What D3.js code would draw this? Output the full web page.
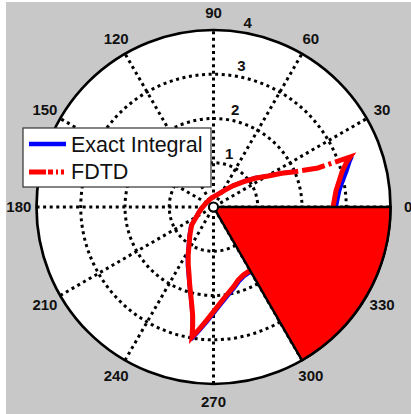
<!DOCTYPE html>
<html>
<head>
<meta charset="utf-8">
<script src="https://cdn.jsdelivr.net/npm/d3@7"></script>
<style>
  body { margin: 0; background: #fff; }
  text { font-family: "Liberation Sans", Arial, sans-serif; fill: #111; }
</style>
</head>
<body>
<svg id="chart" width="411" height="414"></svg>
<script>
// angle in degrees, radius in plot units
var angles = [0, 2.85, 7.44, 11.7, 15.24, 18.37, 20.1, 20.5, 23.4, 26.3, 29.5, 34.7, 40.3, 47.1, 55.9, 69.3, 101.7,
  151.5, 186.3, 202.5, 212.4, 219.5, 230, 237.2, 242.3, 246.5, 250.2, 253.0, 255.5, 257.5, 259.1, 260.0, 260.6,
  263.6, 266.6, 269.9, 273.9, 278.5, 284, 288.8, 293.7, 298.3, 310, 325, 340, 352, 360];

var exactIntegral = [2.77, 2.80, 2.87, 2.99, 3.12, 3.24, 3.33, null, 2.03, 1.74, 1.44, 1.16, 0.90, 0.67, 0.47, 0.32, 0.21,
  0.18, 0.28, 0.38, 0.49, 0.66, 0.85, 1.04, 1.26, 1.46, 1.66, 1.86, 2.07, 2.29, 2.51, 2.74, 3.02,
  2.80, 2.60, 2.41, 2.22, 2.05, 1.90, 1.78, 1.71, 1.69, 1.82, 2.08, 2.38, 2.60, 2.77];

var fdtd = [2.70, 2.73, 2.79, 2.90, 3.01, 3.16, 3.29, 2.52, 2.01, 1.72, 1.42, 1.14, 0.88, 0.66, 0.46, 0.31, 0.21,
  0.19, 0.27, 0.37, 0.48, 0.64, 0.83, 1.02, 1.23, 1.43, 1.63, 1.84, 2.05, 2.27, 2.49, 2.71, 2.98,
  2.76, 2.56, 2.37, 2.18, 2.01, 1.86, 1.74, 1.68, 1.66, 1.80, 2.05, 2.35, 2.55, 2.70];

var wedgeAngles = [300, 360];
var wedgeRadius = 4;

var angleTicks = [0, 30, 60, 90, 120, 150, 180, 210, 240, 270, 300, 330];
var radialTicks = [1, 2, 3, 4];
var seriesNames = ["Exact Integral", "FDTD"];

var cx = 213.5, cy = 207, R = 177;
var dashPattern = [16, 4, 3, 4];

var svg = d3.select("#chart");

var r = d3.scaleLinear().domain([0, 4]).range([0, R]);
var toRad = function(d) { return d * Math.PI / 180; };
// d3 radial angle: clockwise from 12 o'clock
var radial = function(d) { return toRad(90 - d); };

svg.append("rect")
  .attr("x", 6).attr("y", 2)
  .attr("width", 405).attr("height", 412)
  .attr("fill", "#c8c8c8");

var g = svg.append("g")
  .attr("transform", "translate(" + cx + "," + cy + ")");

g.append("circle").attr("r", r(4)).attr("fill", "#fff");

// dotted rings
g.selectAll(".ring")
  .data(radialTicks.filter(function(t) { return t < 4; }))
  .enter()
  .append("circle")
  .attr("class", "ring")
  .attr("r", function(d) { return r(d); })
  .attr("fill", "none")
  .attr("stroke", "#000")
  .attr("stroke-width", 3)
  .attr("stroke-dasharray", "3,3.6");

// dotted spokes through centre
g.selectAll(".spoke")
  .data(angleTicks.filter(function(t) { return t < 180; }))
  .enter()
  .append("line")
  .attr("class", "spoke")
  .attr("x1", function(d) { return -r(4) * Math.cos(toRad(d)); })
  .attr("y1", function(d) { return r(4) * Math.sin(toRad(d)); })
  .attr("x2", function(d) { return r(4) * Math.cos(toRad(d)); })
  .attr("y2", function(d) { return -r(4) * Math.sin(toRad(d)); })
  .attr("stroke", "#000")
  .attr("stroke-width", 3)
  .attr("stroke-dasharray", "3,3.6");

g.append("circle")
  .attr("r", r(4))
  .attr("fill", "none")
  .attr("stroke", "#000")
  .attr("stroke-width", 2.7);

// series
var idx = d3.range(angles.length);

var line = function(vals) {
  return d3.lineRadial()
    .defined(function(i) { return vals[i] != null; })
    .angle(function(i) { return radial(angles[i]); })
    .radius(function(i) { return r(vals[i]); });
};

g.append("path")
  .attr("d", line(exactIntegral)(idx))
  .attr("fill", "none")
  .attr("stroke", "#0000ff")
  .attr("stroke-width", 4)
  .attr("stroke-linejoin", "round");

// dash-dot that restarts at every vertex, like the old plot renderer
function vertexDash(vals) {
  var pts = idx.map(function(i) {
    return [r(vals[i]) * Math.cos(toRad(angles[i])), -r(vals[i]) * Math.sin(toRad(angles[i]))];
  });
  var out = [];
  for (var s = 1; s < pts.length; s++) {
    var rem = Math.hypot(pts[s][0] - pts[s-1][0], pts[s][1] - pts[s-1][1]);
    var k = 0;
    while (rem > 0.001) {
      var p = Math.min(dashPattern[k % dashPattern.length], rem);
      var isDash = (k % 2 === 0);
      var lastIsDash = (out.length - 1) % 2 === 0;
      if (out.length && lastIsDash === isDash) out[out.length - 1] += p;
      else out.push(p);
      rem -= p;
      k++;
    }
  }
  if (out.length % 2 === 1) out.push(1000);
  return out.map(function(v) { return v.toFixed(2); }).join(",");
}

g.append("path")
  .attr("d", line(fdtd)(idx))
  .attr("fill", "none")
  .attr("stroke", "#ff0000")
  .attr("stroke-width", 5)
  .attr("stroke-dasharray", vertexDash(fdtd));

// filled wedge
var wedge = d3.arc()
  .innerRadius(0)
  .outerRadius(r(wedgeRadius))
  .startAngle(radial(wedgeAngles[1]))
  .endAngle(radial(wedgeAngles[0]));

g.append("path")
  .attr("d", wedge())
  .attr("fill", "#ff0000")
  .attr("stroke", "#000")
  .attr("stroke-width", 2.5)
  .attr("stroke-linejoin", "miter");

g.append("circle")
  .attr("r", 4.5)
  .attr("fill", "#fff")
  .attr("stroke", "#000")
  .attr("stroke-width", 2);

// angle labels
g.selectAll(".alabel")
  .data(angleTicks)
  .enter()
  .append("text")
  .attr("class", "alabel")
  .attr("x", function(d) { return 1.1 * r(4) * Math.cos(toRad(d)); })
  .attr("y", function(d) { return -1.1 * r(4) * Math.sin(toRad(d)); })
  .attr("dy", "0.36em")
  .attr("text-anchor", "middle")
  .style("font-size", "15px")
  .style("font-weight", "bold")
  .text(function(d) { return d; });

// radial labels along 82 degrees
g.selectAll(".rlabel")
  .data(radialTicks)
  .enter()
  .append("text")
  .attr("class", "rlabel")
  .attr("x", function(d) { return r(d + 0.05) * Math.cos(toRad(82)) + 5; })
  .attr("y", function(d) { return -r(d + 0.05) * Math.sin(toRad(82)) - 2; })
  .style("font-size", "15px")
  .style("font-weight", "bold")
  .text(function(d) { return d; });

// legend
var legend = svg.append("g");

legend.append("rect")
  .attr("x", 23).attr("y", 128)
  .attr("width", 188).attr("height", 59)
  .attr("fill", "#fff")
  .attr("stroke", "#333")
  .attr("stroke-width", 1.2);

legend.append("line")
  .attr("x1", 29).attr("x2", 66)
  .attr("y1", 144).attr("y2", 144)
  .attr("stroke", "#0000ff")
  .attr("stroke-width", 4.5);

legend.append("line")
  .attr("x1", 29).attr("x2", 66)
  .attr("y1", 172).attr("y2", 172)
  .attr("stroke", "#ff0000")
  .attr("stroke-width", 5)
  .attr("stroke-dasharray", "17,2,5,3,2,3,3,10");

legend.selectAll(".ltext")
  .data(seriesNames)
  .enter()
  .append("text")
  .attr("class", "ltext")
  .attr("x", 71)
  .attr("y", function(d, i) { return 152 + i * 27; })
  .style("font-size", "21.5px")
  .text(function(d) { return d; });
</script>
</body>
</html>
